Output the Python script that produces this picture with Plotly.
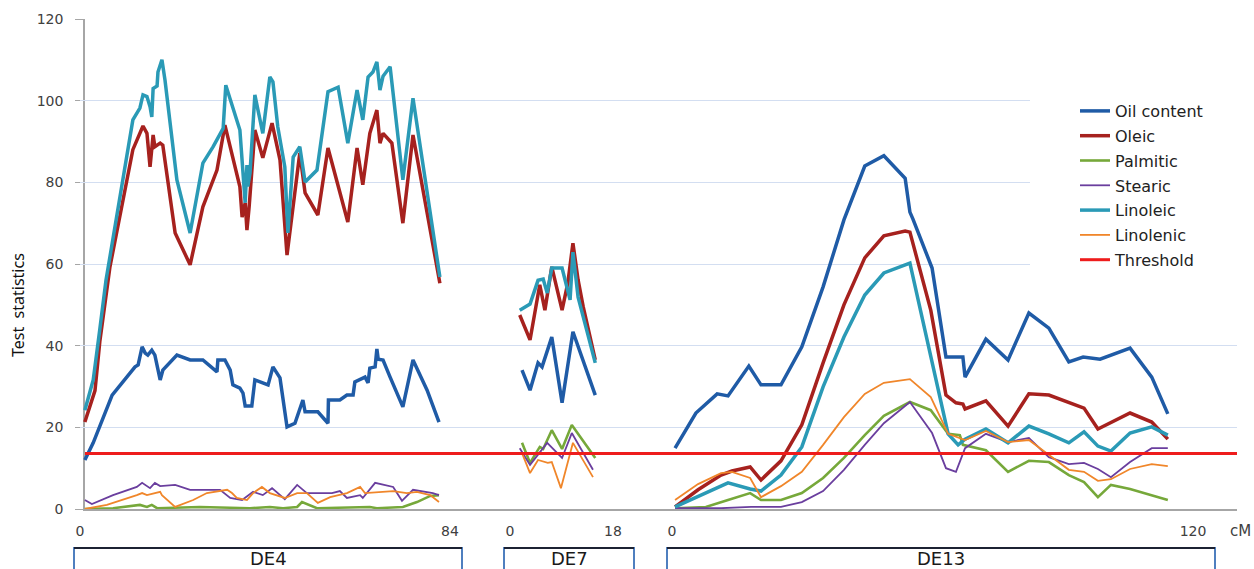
import plotly.graph_objects as go

# ---------------- data (cM positions, test statistics) ----------------
# DE4
de4_oil_x = [1.1, 3.0, 7.3, 12.5, 13.2, 14.1, 14.8, 15.4, 16.3, 17.0, 18.2, 18.8, 22.0, 25.0, 27.9, 31.1, 31.3, 32.9, 34.1, 34.7,
             36.3, 37.0, 37.5, 39.0, 39.7, 42.7, 43.8, 45.4, 47.0, 48.8, 50.6, 51.1, 54.0, 56.3, 56.4, 59.0, 60.6, 62.0, 62.4, 64.7,
             65.4, 65.8, 67.0, 67.4, 67.7, 68.8, 70.4, 73.3, 75.6, 78.8, 81.5]
de4_oil_y = [12, 16.2, 27.9, 34.8, 35.3, 39.7, 38.2, 37.7, 38.9, 37.7, 31.6, 34, 37.7, 36.5, 36.5, 33.6, 36.5, 36.5, 34, 30.4,
             29.6, 28.4, 25.2, 25.2, 31.6, 30.4, 34.8, 32.1, 20.1, 21, 26.7, 23.8, 23.8, 21, 26.7, 26.7, 27.9, 27.9, 31.1, 32.3,
             30.9, 34.5, 34.8, 39.2, 36.7, 36.5, 32.3, 25, 36.5, 29.1, 21.3]
de4_oleic_x = [1.1, 3.4, 4.5, 6.8, 12.0, 14.3, 15.2, 15.9, 16.6, 17.0, 18.2, 18.8, 21.6, 25.0, 27.9, 31.1, 32.9, 36.3, 36.8, 37.5,
               37.9, 38.4, 39.7, 41.5, 43.6, 45.4, 47.0, 48.4, 49.9, 51.1, 54.0, 56.3, 60.8, 62.9, 64.2, 65.8, 67.4, 68.1, 68.8, 70.8,
               73.3, 75.6, 81.7]
de4_oleic_y = [21.3, 29, 41, 59.3, 88, 93.8, 92, 83.8, 91.6, 88.7, 89.6, 89.1, 67.6, 59.8, 74, 83, 94, 78.9, 71.5, 75,
               68.3, 74, 92.8, 86, 94.5, 85.5, 62.2, 75, 87.2, 77.4, 72, 88.4, 70.3, 88.4, 79.4, 92, 97.7, 89.6, 92, 89.6,
               70, 91.6, 55.3]
de4_palmitic_x = [1.1, 7.5, 13.6, 15.2, 16.3, 17.5, 27.2, 38.6, 43.1, 46.1, 49.3, 50.4, 53.8, 65.8, 67.4, 73.3, 76.5, 79.5, 81.5]
de4_palmitic_y = [0, 0.2, 1, 0.5, 1, 0.2, 0.5, 0.2, 0.5, 0.2, 0.5, 1.7, 0.2, 0.5, 0.2, 0.5, 1.7, 3.2, 3.4]
de4_stearic_x = [1.1, 2.7, 7.5, 12.9, 14.1, 15.9, 17.0, 18.2, 21.6, 25.0, 31.8, 34.1, 36.8, 39.3, 41.5, 43.6, 46.5, 49.3, 51.5, 57.2,
                 59.0, 60.6, 63.6, 64.2, 67.0, 69.2, 71.1, 73.1, 75.6, 80.1, 81.5]
de4_stearic_y = [2.2, 1.2, 3.4, 5.4, 6.4, 5.1, 6.4, 5.6, 5.9, 4.7, 4.7, 2.7, 2.2, 4.2, 3.4, 5.1, 2.4, 5.9, 3.9, 3.9,
                 4.4, 2.7, 3.4, 2.7, 6.4, 5.9, 5.4, 2, 4.7, 3.9, 3.4]
de4_linoleic_x = [1.1, 3.0, 4.5, 5.9, 12.0, 13.2, 13.6, 14.3, 15.2, 15.9, 16.3, 16.6, 17.5, 17.7, 18.6, 19.3, 22.0, 25.0, 27.9, 30.2,
                  32.5, 33.1, 36.3, 37.5, 37.9, 38.1, 38.6, 39.7, 41.5, 43.1, 43.8, 44.9, 46.5, 47.2, 48.4, 49.9, 51.1, 53.8, 56.3, 58.6,
                  60.8, 62.9, 64.2, 65.4, 66.5, 67.4, 68.1, 68.8, 70.4, 73.3, 75.6, 81.7]
de4_linoleic_y = [24.2, 31.6, 44, 56, 95.3, 97.3, 98.2, 101.4, 101, 98.5, 96, 103, 103.6, 107, 110, 105, 80.6, 67.6, 84.7, 88.7,
                  93.2, 103.8, 92.8, 75, 84.2, 79, 82.3, 101.4, 92, 105.8, 104.6, 93.6, 83.8, 67.6, 86.2, 88.7, 80.1, 83, 102.2, 103.3,
                  89.6, 102.6, 95.3, 105.8, 107, 109.5, 102.6, 106, 108.3, 80.6, 100.6, 56.8]
de4_linolenic_x = [1.1, 6.1, 12.9, 14.1, 15.2, 18.2, 18.6, 21.6, 25.7, 28.8, 33.4, 34.5, 35.6, 37.9, 39.3, 41.3, 43.1, 46.5, 49.3, 51.5,
                   54.0, 56.8, 60.6, 63.6, 64.7, 68.8, 71.1, 74.2, 76.5, 79.5, 81.5]
de4_linolenic_y = [0, 1, 3.4, 3.9, 3.4, 4.2, 3.4, 0.5, 2.2, 3.9, 4.7, 3.9, 2.7, 2.2, 3.9, 5.4, 3.9, 2.7, 3.9, 3.9,
                   1.5, 2.9, 3.9, 5.4, 3.9, 4.2, 4.4, 3.9, 4.2, 3.4, 1.7]

# DE7
de7_oil_x = [2.1, 3.5, 4.9, 5.6, 7.3, 9.1, 11.0, 14.9]
de7_oil_y = [34, 29.1, 35.8, 34.8, 42.1, 26, 43.4, 27.9]
de7_oleic_x = [1.7, 3.5, 5.2, 6.1, 7.3, 9.1, 10.1, 11.0, 11.9, 12.8, 14.9]
de7_oleic_y = [47.5, 41.4, 54.9, 48.7, 59.3, 48.7, 55.3, 65.1, 56.1, 49.5, 36.5]
de7_palmitic_x = [2.1, 3.5, 5.2, 5.8, 7.3, 9.1, 10.8, 14.9]
de7_palmitic_y = [16.2, 11.3, 15.2, 14.7, 19.3, 14.7, 20.6, 12.5]
de7_stearic_x = [1.7, 3.5, 6.5, 9.1, 10.8, 14.5]
de7_stearic_y = [14.9, 10.8, 16.2, 12.5, 18.6, 9.6]
de7_linoleic_x = [1.7, 3.5, 4.9, 5.8, 6.5, 7.3, 9.1, 10.5, 11.0, 11.9, 14.9]
de7_linoleic_y = [48.7, 50.2, 56, 56.3, 52.9, 59, 59, 51.2, 62.9, 51.9, 35.8]
de7_linolenic_x = [2.1, 3.5, 4.9, 6.6, 7.3, 8.9, 11.0, 14.5]
de7_linolenic_y = [13.7, 8.8, 12, 11.3, 11.5, 5.1, 16.2, 7.8]

# DE13
de13_oil_x = [0.7, 5.5, 10.4, 12.9, 17.7, 20.5, 25.1, 29.9, 34.8, 39.6, 44.4, 48.8, 53.7, 54.8, 55.5, 59.9, 63.1, 67.0, 67.5, 72.3,
              77.4, 82.2, 86.8, 91.4, 94.7, 98.6, 105.5, 110.5, 114.2]
de13_oil_y = [14.9, 23.5, 28.2, 27.7, 35, 30.4, 30.4, 39.7, 54.4, 70.8, 84, 86.5, 81, 72.7, 71, 59, 37.2, 37.2, 32.3, 41.6,
              36.5, 48, 44.3, 36, 37.2, 36.7, 39.4, 32.3, 23.3]
de13_oleic_x = [0.7, 6.0, 11.3, 13.8, 18.0, 20.5, 25.1, 29.9, 34.8, 39.6, 44.4, 48.8, 53.7, 54.8, 59.6, 63.1, 65.4, 67.0, 67.5, 72.3,
                77.4, 82.2, 86.8, 91.4, 94.9, 98.1, 105.5, 110.5, 114.2]
de13_oleic_y = [0.5, 4.7, 8.3, 9.3, 10.3, 7.1, 11.8, 20.6, 35.8, 50, 61.5, 66.9, 68.1, 67.8, 48.7, 27.9, 26, 25.7, 24.5, 26.5,
                20.3, 28.2, 27.9, 26.2, 24.7, 19.6, 23.5, 21.3, 17.1]
de13_palmitic_x = [0.7, 7.8, 12.9, 18.0, 20.5, 25.1, 29.9, 34.8, 39.6, 44.4, 48.8, 54.8, 59.6, 63.6, 66.3, 67.0, 72.3, 77.4, 82.2, 86.8,
                   91.4, 94.9, 98.1, 101.1, 105.5, 114.2]
de13_palmitic_y = [0.2, 0.5, 2.2, 3.9, 2.2, 2.2, 3.9, 7.6, 12.5, 18.1, 22.8, 26.2, 24.2, 18.4, 18.1, 15.7, 14.4, 9.1, 11.8, 11.5,
                   8.3, 6.6, 2.9, 5.9, 4.9, 2.2]
de13_stearic_x = [0.7, 11.3, 18.2, 25.1, 29.9, 34.8, 39.6, 44.4, 48.8, 54.8, 59.9, 63.1, 65.4, 67.5, 72.3, 77.4, 82.2, 86.8, 91.4, 94.9,
                  98.1, 101.1, 105.5, 110.5, 114.2]
de13_stearic_y = [0.2, 0.2, 0.5, 0.5, 1.7, 4.4, 9.6, 15.7, 21, 26.2, 18.6, 10, 9.1, 14.9, 18.4, 16.4, 17.4, 12.7, 11, 11.3,
                  9.8, 7.8, 11.5, 14.9, 14.9]
de13_linoleic_x = [0.7, 12.9, 18.0, 20.5, 25.1, 29.9, 34.8, 39.6, 44.4, 48.8, 54.8, 59.9, 63.6, 65.9, 67.5, 72.3, 77.4, 82.2, 86.8, 91.4,
                   94.9, 98.1, 101.1, 105.5, 110.5, 114.2]
de13_linoleic_y = [0.5, 6.4, 4.9, 4.4, 8.3, 15.2, 29.9, 42.1, 52.4, 57.8, 60.2, 35.8, 18.4, 15.7, 17.1, 19.6, 16.2, 20.3, 18.4, 16.2,
                   18.9, 15.4, 14.2, 18.6, 20.1, 18.1]
de13_linolenic_x = [0.7, 6.0, 11.3, 13.8, 18.0, 20.5, 25.1, 29.9, 34.8, 39.6, 44.4, 48.8, 54.8, 59.6, 63.6, 67.5, 72.3, 77.4, 82.2, 86.8,
                    91.4, 94.9, 98.1, 101.1, 105.5, 110.5, 114.2]
de13_linolenic_y = [2.2, 6.1, 8.8, 9.1, 7.6, 2.9, 5.6, 9.1, 15.7, 22.5, 28.2, 30.9, 31.8, 27.4, 18.4, 16.9, 19.1, 16.4, 16.9, 13.2,
                    9.6, 9.1, 6.9, 7.3, 9.8, 11, 10.5]

threshold = 13.6
trait_names = ["Oil content", "Oleic", "Palmitic", "Stearic", "Linoleic", "Linolenic"]
group_names = ["DE4", "DE7", "DE13"]
group_lengths = [84, 18, 120]
y_ticks = [0, 20, 40, 60, 80, 100, 120]

# ---------------- styling ----------------
colors = {"Oil content": "#1F5BA6", "Oleic": "#A6211E", "Palmitic": "#76A83A",
          "Stearic": "#6A3E9E", "Linoleic": "#2A9AB6", "Linolenic": "#F0862A"}
widths = {"Oil content": 3.5, "Oleic": 3.5, "Palmitic": 2.6,
          "Stearic": 1.8, "Linoleic": 3.5, "Linolenic": 1.8}
thr_color = "#EE1C1C"

W, H = 1254, 569
L, R, T, B = 80, 17, 19, 60
PW = W - L - R
PH = H - T - B


def fx(p):
    return (p - L) / PW


def fy(p):
    return (H - B - p) / PH


groups = [
    ("x2", [(de4_oil_x, de4_oil_y), (de4_oleic_x, de4_oleic_y), (de4_palmitic_x, de4_palmitic_y),
            (de4_stearic_x, de4_stearic_y), (de4_linoleic_x, de4_linoleic_y), (de4_linolenic_x, de4_linolenic_y)]),
    ("x3", [(de7_oil_x, de7_oil_y), (de7_oleic_x, de7_oleic_y), (de7_palmitic_x, de7_palmitic_y),
            (de7_stearic_x, de7_stearic_y), (de7_linoleic_x, de7_linoleic_y), (de7_linolenic_x, de7_linolenic_y)]),
    ("x4", [(de13_oil_x, de13_oil_y), (de13_oleic_x, de13_oleic_y), (de13_palmitic_x, de13_palmitic_y),
            (de13_stearic_x, de13_stearic_y), (de13_linoleic_x, de13_linoleic_y), (de13_linolenic_x, de13_linolenic_y)]),
]

fig = go.Figure()
for gi, (xa, series) in enumerate(groups):
    for name, (xs, ys) in zip(trait_names, series):
        fig.add_trace(go.Scatter(
            x=xs, y=ys, xaxis=xa, yaxis="y", mode="lines", name=name, legendgroup=name,
            line=dict(color=colors[name], width=widths[name]),
            showlegend=(gi == 0), hoverinfo="skip"))

fig.add_trace(go.Scatter(x=[0, 1], y=[threshold, threshold], xaxis="x", yaxis="y", mode="lines",
                         name="Threshold", legendgroup="Threshold",
                         line=dict(color=thr_color, width=3), hoverinfo="skip"))

tickfont = dict(family="DejaVu Sans", size=14, color="#404040")
seg_common = dict(anchor="y", showgrid=False, zeroline=False, showline=False, ticks="",
                  tickfont=tickfont, ticklabelstandoff=12, fixedrange=True, automargin=False)

fig.update_layout(
    width=W, height=H,
    margin=dict(l=L, r=R, t=T, b=B, pad=0, autoexpand=False),
    paper_bgcolor="white", plot_bgcolor="rgba(0,0,0,0)",
    xaxis=dict(domain=[fx(85), 1], range=[0, 1], anchor="y", showgrid=False, zeroline=False,
               showline=True, linecolor="#A6A6A6", linewidth=1.5, showticklabels=False, ticks="",
               automargin=False, fixedrange=True),
    xaxis2=dict(domain=[0, fx(450)], range=[0, group_lengths[0]],
                tickvals=[0, group_lengths[0]], **seg_common),
    xaxis3=dict(domain=[fx(510), fx(613)], range=[0, group_lengths[1]],
                tickvals=[0, group_lengths[1]], **seg_common),
    xaxis4=dict(domain=[fx(672), fx(1193)], range=[0, group_lengths[2]],
                tickvals=[0, group_lengths[2]], **seg_common),
    yaxis=dict(domain=[0, 1], range=[0, 120], anchor="x", tickvals=y_ticks,
               showgrid=True, gridcolor="#D3DEF1", gridwidth=1, zeroline=False,
               showline=True, linecolor="#A6A6A6", linewidth=1.5,
               ticks="outside", ticklen=8, tickcolor="#A6A6A6", tickwidth=1,
               tickfont=tickfont, ticklabelstandoff=9, fixedrange=True, automargin=False),
    legend=dict(x=fx(1075), y=fy(94), xanchor="left", yanchor="top",
                bgcolor="rgba(0,0,0,0)", font=dict(family="DejaVu Sans", size=16, color="#222222"),
                tracegroupgap=1),
    showlegend=True,
)

# white panel behind legend hiding gridlines
fig.add_shape(type="rect", xref="paper", yref="paper", x0=fx(1030), x1=1,
              y0=fy(280), y1=fy(90), fillcolor="white", line=dict(width=0), layer="above")

# threshold line drawn on top of all segments
fig.add_shape(type="line", xref="x", yref="y", x0=0, x1=1, y0=threshold, y1=threshold,
              line=dict(color=thr_color, width=3), layer="above")

# group boxes below the axis
box_px = [(74, 462), (504, 634), (667, 1215)]
for (x0, x1), name in zip(box_px, group_names):
    fig.add_shape(type="rect", xref="paper", yref="paper", x0=fx(x0), x1=fx(x1),
                  y0=fy(590), y1=fy(548), line=dict(color="#4F7FBF", width=2), fillcolor="rgba(0,0,0,0)")
    fig.add_shape(type="line", xref="paper", yref="paper", x0=fx(x0), x1=fx(x1),
                  y0=fy(548), y1=fy(548), line=dict(color="#1C2233", width=2))
    fig.add_annotation(xref="paper", yref="paper", x=fx((x0 + x1) / 2), y=fy(546), text=name,
                       showarrow=False, xanchor="center", yanchor="top",
                       font=dict(family="DejaVu Sans", size=18, color="#1A1A1A"))

fig.add_annotation(xref="paper", yref="paper", x=fx(1240), y=fy(531), text="cM", showarrow=False,
                   xanchor="center", yanchor="middle", font=dict(family="DejaVu Sans", size=15, color="#404040"))
fig.add_annotation(xref="paper", yref="paper", x=fx(18), y=fy(305), text="Test\u00a0 statistics",
                   showarrow=False, textangle=-90, xanchor="center", yanchor="middle",
                   font=dict(family="Noto Sans", size=16, color="#111111"))

fig.write_html("out.html", config={"displayModeBar": False},
               post_script="document.body.style.margin='0';document.body.style.overflow='hidden';")
